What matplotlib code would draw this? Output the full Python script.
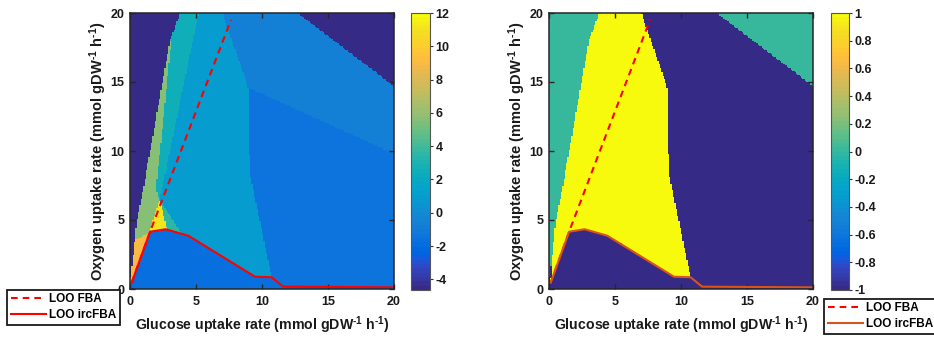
import numpy as np
import matplotlib
matplotlib.use("Agg")
import matplotlib.pyplot as plt
from matplotlib.path import Path
from matplotlib.colors import ListedColormap

# ---------------------------------------------------------------------------
# Data (glucose uptake, oxygen uptake) in mmol gDW^-1 h^-1
# ---------------------------------------------------------------------------
# LOO FBA optimum trajectory
fba_glc = [0.13, 1.52, 7.65]
fba_o2 = [0.46, 4.15, 19.5]

# LOO ircFBA optimum trajectory
irc_glc = [0.13, 1.52, 2.70, 4.42, 9.47, 10.73, 11.60, 20.0]
irc_o2 = [0.46, 4.15, 4.33, 3.86, 0.89, 0.85, 0.17, 0.12]

# Feasibility edge on the low-glucose side
feas_glc = [0.0, 0.23, 0.37, 0.48, 0.98, 1.64, 3.03, 3.79]
feas_o2 = [0.45, 2.34, 3.55, 4.76, 7.17, 10.56, 18.0, 20.0]

# Feasibility edge in the high-glucose / high-oxygen corner
corner_glc = [12.7, 20.0, 20.0]
corner_o2 = [20.0, 20.0, 14.7]

# Edge between the respiratory and overflow regimes
mid_glc = [7.0, 8.95, 9.08, 10.73]
mid_o2 = [20.0, 14.6, 8.4, 0.85]

# Secondary edges of the left map
upper_split_glc = [8.95, 20.0]
upper_split_o2 = [14.6, 9.8]
teal_right_glc = [5.2, 2.25]
teal_right_o2 = [20.0, 6.45]
green_right_glc = [3.15, 2.35, 1.95, 2.25]
green_right_o2 = [18.3, 10.6, 7.2, 6.45]
peak_glc = [2.25, 1.45, 2.80]
peak_o2 = [6.45, 4.10, 4.33]
shoulder_glc = [2.25, 2.80, 3.90]
shoulder_o2 = [6.45, 4.33, 4.00]

# Region values of the left map
val_left_base = 0.9
val_left_upper = -0.6
val_left_lower = -1.45
val_infeasible = -4.64
val_teal = 2.4
val_green = 5.6
val_orange = 9.1
val_peak = 11.0
val_shoulder = 3.6
val_under = -1.6
left_clim = (-4.64, 12.0)

# Region values of the right map
val_right_base = -1.0
val_right_zero = 0.0
val_right_pos = 1.0
right_clim = (-1.0, 1.0)

left_cticks = [-4, -2, 0, 2, 4, 6, 8, 10, 12]
right_cticks = [-1, -0.8, -0.6, -0.4, -0.2, 0, 0.2, 0.4, 0.6, 0.8, 1]
right_ctick_labels = ["-1", "-0.8", "-0.6", "-0.4", "-0.2", "0",
                      "0.2", "0.4", "0.6", "0.8", "1"]
axis_ticks = [0, 5, 10, 15, 20]

# ---------------------------------------------------------------------------
plt.rcParams["font.family"] = ["Liberation Sans", "DejaVu Sans"]
plt.rcParams["font.weight"] = "bold"
plt.rcParams["axes.unicode_minus"] = False
plt.rcParams["mathtext.fontset"] = "custom"
plt.rcParams["mathtext.rm"] = "Liberation Sans:bold"
plt.rcParams["mathtext.default"] = "rm"
plt.rcParams["lines.scale_dashes"] = False

# 64-entry parula colour table
parula = ListedColormap([
    [0.2081, 0.1663, 0.5292], [0.2116, 0.1898, 0.5777], [0.2123, 0.2138, 0.6270],
    [0.2081, 0.2386, 0.6771], [0.1959, 0.2645, 0.7279], [0.1707, 0.2919, 0.7792],
    [0.1253, 0.3242, 0.8303], [0.0591, 0.3598, 0.8683], [0.0117, 0.3875, 0.8820],
    [0.0060, 0.4086, 0.8828], [0.0165, 0.4266, 0.8786], [0.0329, 0.4430, 0.8720],
    [0.0498, 0.4586, 0.8641], [0.0629, 0.4737, 0.8554], [0.0723, 0.4887, 0.8467],
    [0.0779, 0.5040, 0.8384], [0.0793, 0.5200, 0.8312], [0.0749, 0.5375, 0.8263],
    [0.0641, 0.5570, 0.8240], [0.0488, 0.5772, 0.8228], [0.0343, 0.5966, 0.8199],
    [0.0265, 0.6137, 0.8135], [0.0239, 0.6287, 0.8038], [0.0231, 0.6418, 0.7913],
    [0.0228, 0.6535, 0.7768], [0.0267, 0.6642, 0.7607], [0.0384, 0.6743, 0.7436],
    [0.0590, 0.6838, 0.7254], [0.0843, 0.6928, 0.7062], [0.1133, 0.7015, 0.6859],
    [0.1453, 0.7098, 0.6646], [0.1801, 0.7177, 0.6424], [0.2178, 0.7250, 0.6193],
    [0.2586, 0.7317, 0.5954], [0.3022, 0.7376, 0.5712], [0.3482, 0.7424, 0.5473],
    [0.3953, 0.7459, 0.5244], [0.4420, 0.7481, 0.5033], [0.4871, 0.7491, 0.4840],
    [0.5300, 0.7491, 0.4661], [0.5709, 0.7485, 0.4494], [0.6099, 0.7473, 0.4337],
    [0.6473, 0.7456, 0.4188], [0.6834, 0.7435, 0.4044], [0.7184, 0.7411, 0.3905],
    [0.7525, 0.7384, 0.3768], [0.7858, 0.7356, 0.3633], [0.8185, 0.7327, 0.3498],
    [0.8507, 0.7299, 0.3360], [0.8824, 0.7274, 0.3217], [0.9139, 0.7258, 0.3063],
    [0.9450, 0.7261, 0.2886], [0.9739, 0.7314, 0.2666], [0.9938, 0.7455, 0.2403],
    [0.9990, 0.7653, 0.2164], [0.9955, 0.7861, 0.1967], [0.9880, 0.8066, 0.1794],
    [0.9789, 0.8271, 0.1633], [0.9697, 0.8481, 0.1475], [0.9626, 0.8705, 0.1309],
    [0.9589, 0.8949, 0.1132], [0.9598, 0.9218, 0.0948], [0.9661, 0.9514, 0.0755],
    [0.9763, 0.9831, 0.0538]], name="parula")

n = 200
centres = (np.arange(n) + 0.5) * 20.0 / n
GX, GY = np.meshgrid(centres, centres)
pts = np.column_stack([GX.ravel(), GY.ravel()])


def paint(field, xs, ys, value):
    poly = Path(np.column_stack([xs, ys]))
    mask = poly.contains_points(pts).reshape(field.shape)
    field[mask] = value


def zz(*parts):
    xs, ys = [], []
    for px, py in parts:
        xs += list(px)
        ys += list(py)
    return xs, ys


left_edge = zz(([0.0], [0.0]), (feas_glc, feas_o2), ([0.0], [20.0]))
under = zz((irc_glc, irc_o2), ([20.0, 0.0], [0.0, 0.0]))

# Left map
L = np.full((n, n), val_left_base)
paint(L, *zz(([mid_glc[0], 20.0], [20.0, 20.0]),
             (upper_split_glc[::-1], upper_split_o2[::-1])), val_left_upper)
paint(L, *zz((upper_split_glc, upper_split_o2),
             ([20.0, irc_glc[6], irc_glc[5]], [irc_o2[7], irc_o2[6], irc_o2[5]]),
             (mid_glc[1:][::-1], mid_o2[1:][::-1])), val_left_lower)
paint(L, corner_glc, corner_o2, val_infeasible)
paint(L, *left_edge, val_infeasible)
paint(L, *zz((feas_glc[-2:], feas_o2[-2:]), (teal_right_glc, teal_right_o2),
             ([1.9], [6.45])), val_teal)
paint(L, *zz((feas_glc[2:-1], feas_o2[2:-1]), (green_right_glc, green_right_o2),
             ([peak_glc[1]], [peak_o2[1]])), val_green)
paint(L, *zz((feas_glc[:3], feas_o2[:3]), ([1.45, 1.52], [4.10, 4.15]),
             ([irc_glc[0]], [irc_o2[0]])), val_orange)
paint(L, peak_glc, peak_o2, val_peak)
paint(L, shoulder_glc, shoulder_o2, val_shoulder)
paint(L, *under, val_under)

# Right map
R = np.full((n, n), val_right_base)
paint(R, *left_edge, val_right_zero)
paint(R, corner_glc, corner_o2, val_right_zero)
paint(R, *zz(([irc_glc[0]], [irc_o2[0]]), (feas_glc[1:], feas_o2[1:]),
             (mid_glc, mid_o2), (irc_glc[4::-1], irc_o2[4::-1])), val_right_pos)
paint(R, *under, val_right_base)

# ---------------------------------------------------------------------------
fig = plt.figure(figsize=(9.34, 3.37), dpi=100)
W, H = 934.0, 337.0


def fig_rect(x0, y0, x1, y1):
    return [x0 / W, 1 - y1 / H, (x1 - x0) / W, (y1 - y0) / H]


panels = [
    dict(field=L, clim=left_clim, ax=fig_rect(130, 13, 394, 289),
         cax=fig_rect(411, 13, 430, 290), cticks=left_cticks, clabels=None,
         irc_color="#ff0000", leg=(7 / W, 1 - 325 / H)),
    dict(field=R, clim=right_clim, ax=fig_rect(549, 13, 813, 289),
         cax=fig_rect(831, 13, 849, 290), cticks=right_cticks,
         clabels=right_ctick_labels, irc_color="#d9541a",
         leg=(824 / W, 1 - 334 / H)),
]

axis_col = "#262626"
label_txt_x = r"Glucose uptake rate (mmol gDW$^{\text{-}1}$ h$^{\text{-}1}$)"
label_txt_y = r"Oxygen uptake rate (mmol gDW$^{\text{-}1}$ h$^{\text{-}1}$)"

for p in panels:
    ax = fig.add_axes(p["ax"])
    im = ax.imshow(p["field"], origin="lower", extent=[0, 20, 0, 20],
                   cmap=parula, vmin=p["clim"][0], vmax=p["clim"][1],
                   interpolation="nearest", aspect="auto")
    h1, = ax.plot(fba_glc, fba_o2, color="#ff0000", lw=1.5,
                  dashes=(4.8, 3.6), label="LOO FBA")
    h2, = ax.plot(irc_glc, irc_o2, color=p["irc_color"], lw=1.5,
                  label="LOO ircFBA", solid_joinstyle="round")
    ax.set_xlim(0, 20)
    ax.set_ylim(0, 20)
    ax.set_xticks(axis_ticks)
    ax.set_yticks(axis_ticks)
    ax.tick_params(direction="in", length=3.5, width=1.0, top=True,
                   right=True, labelsize=9, colors=axis_col,
                   labelcolor="#1a1a1a")
    ax.tick_params(axis="x", pad=5)
    ax.tick_params(axis="y", pad=4)
    for s in ax.spines.values():
        s.set_color(axis_col)
        s.set_linewidth(1.1)
    ax.set_xlabel(label_txt_x, fontsize=10.2, fontweight="bold", labelpad=5,
                  color="#1a1a1a")
    ax.set_ylabel(label_txt_y, fontsize=10.5, fontweight="bold", labelpad=1,
                  color="#1a1a1a")

    cax = fig.add_axes(p["cax"])
    cb = fig.colorbar(im, cax=cax)
    cb.set_ticks(p["cticks"])
    if p["clabels"] is not None:
        cb.set_ticklabels(p["clabels"])
    cb.outline.set_edgecolor("#555555")
    cb.outline.set_linewidth(0.8)
    cax.tick_params(direction="out", length=2, width=0.8, labelsize=9,
                    pad=2, colors="#333333", labelcolor="#1a1a1a")

    leg = fig.legend([h1, h2], ["LOO FBA", "LOO ircFBA"], loc="lower left",
                     bbox_to_anchor=p["leg"], borderaxespad=0,
                     fontsize=8.5, handlelength=3.0, handletextpad=0.25,
                     labelspacing=0.35, borderpad=0.3, fancybox=False,
                     framealpha=1)
    leg.get_frame().set_edgecolor("#1a1a1a")
    leg.get_frame().set_linewidth(1.3)

fig.savefig("out.png", dpi=100)
